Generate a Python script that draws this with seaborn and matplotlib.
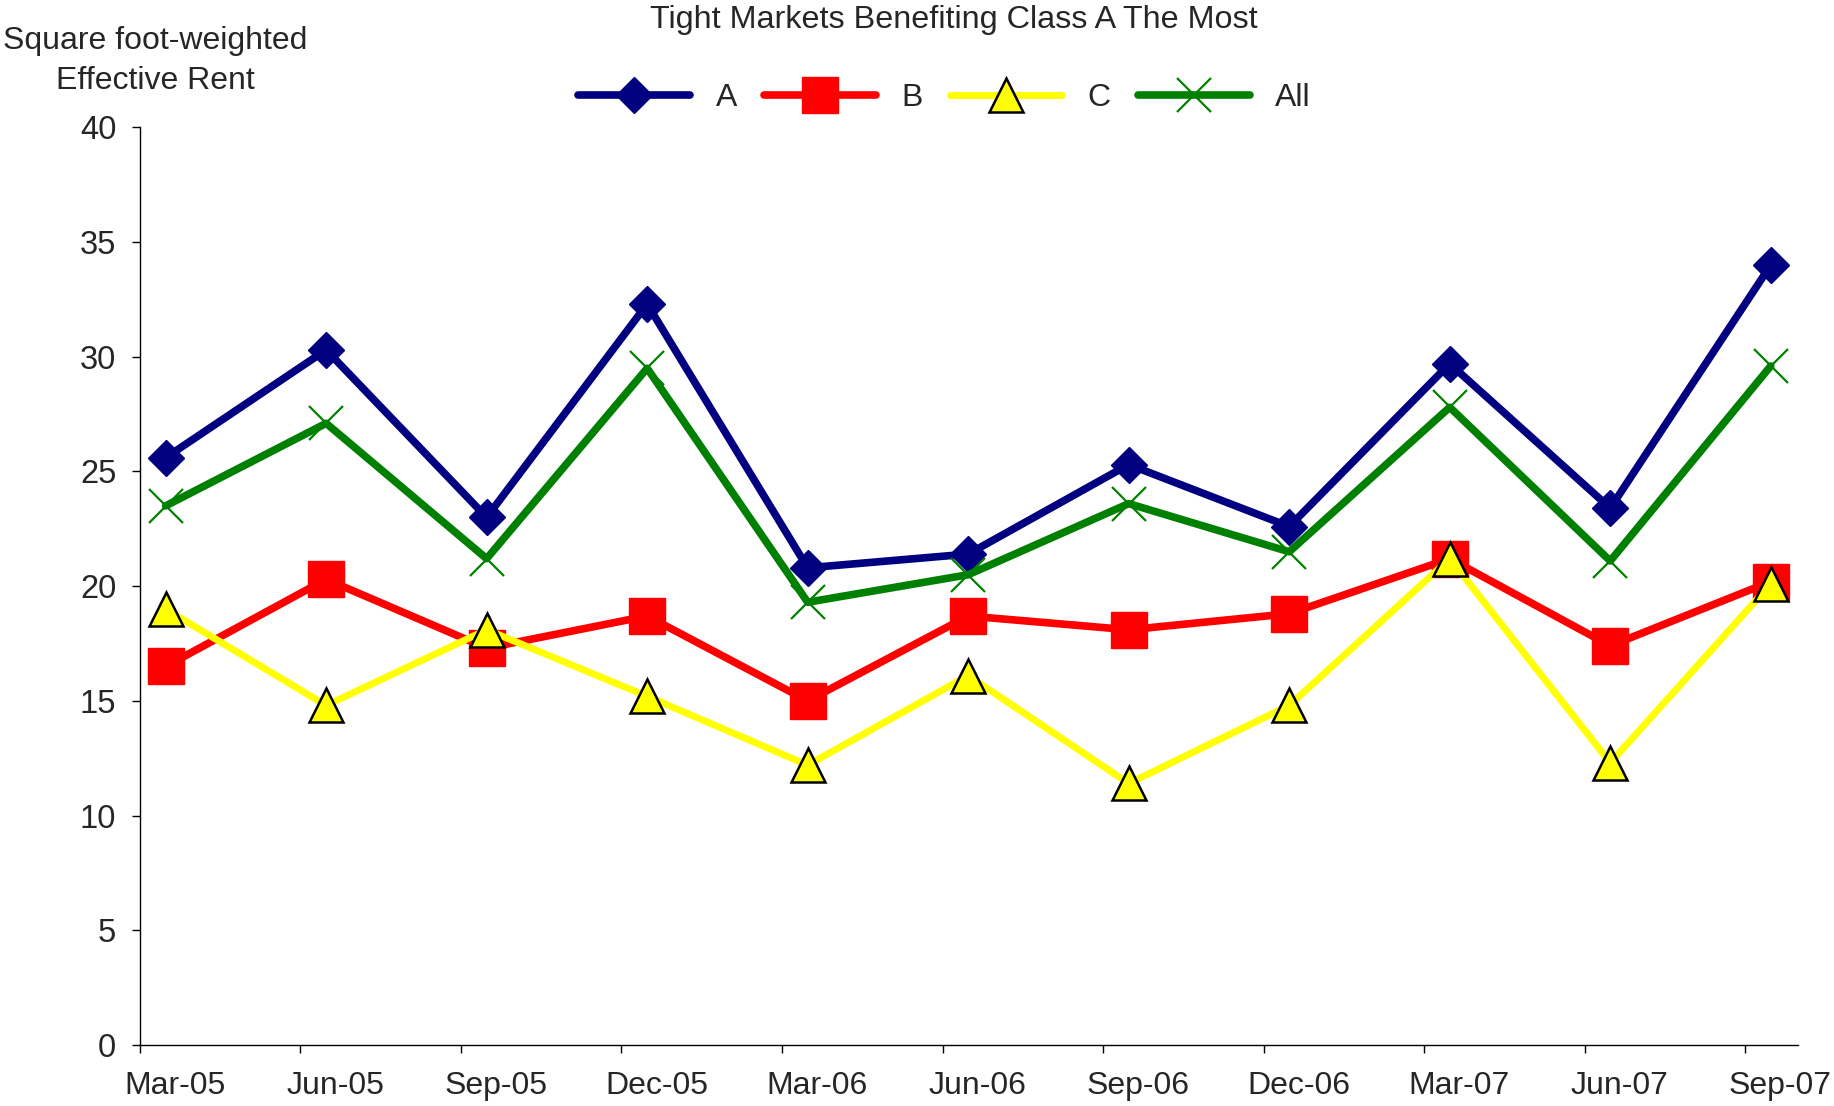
import numpy as np
import pandas as pd
import matplotlib
matplotlib.use("Agg")
import matplotlib.pyplot as plt
import seaborn as sns

quarters = ['Mar-05', 'Jun-05', 'Sep-05', 'Dec-05', 'Mar-06', 'Jun-06',
            'Sep-06', 'Dec-06', 'Mar-07', 'Jun-07', 'Sep-07']
rent_a = [25.6, 30.3, 23.0, 32.3, 20.8, 21.4, 25.3, 22.6, 29.7, 23.4, 34.0]
rent_b = [16.5, 20.3, 17.3, 18.7, 15.0, 18.7, 18.1, 18.8, 21.2, 17.4, 20.2]
rent_c = [19.0, 14.8, 18.1, 15.2, 12.2, 16.1, 11.4, 14.8, 21.2, 12.3, 20.1]
rent_all = [23.5, 27.1, 21.2, 29.5, 19.3, 20.5, 23.6, 21.5, 27.8, 21.1, 29.6]

sns.set_style("white")
plt.rcParams['font.family'] = ['Liberation Sans', 'DejaVu Sans']

# data sits a bit to the right of each tick (mid-month on a date axis)
pos = np.arange(len(quarters)) + 0.16
data = pd.DataFrame({'pos': pos, 'A': rent_a, 'B': rent_b, 'C': rent_c, 'All': rent_all})

fig = plt.figure(figsize=(18.34, 11.06), dpi=100)
ax = fig.add_axes([0.0763, 0.0552, 0.9041, 0.8296])

sns.lineplot(x='pos', y='A', data=data, ax=ax, color='#000080', linewidth=5.5,
             marker='D', markersize=18, markeredgecolor='#000080', markeredgewidth=1, label='A')
sns.lineplot(x='pos', y='B', data=data, ax=ax, color='#FF0000', linewidth=5.5,
             marker='s', markersize=26, markeredgecolor='#FF0000', markeredgewidth=1, label='B')
sns.lineplot(x='pos', y='C', data=data, ax=ax, color='#FFFF00', linewidth=5,
             marker='^', markersize=25, markerfacecolor='#FFFF00', markeredgecolor='black',
             markeredgewidth=1.8, label='C')
sns.lineplot(x='pos', y='All', data=data, ax=ax, color='#008000', linewidth=5.5,
             marker='x', markersize=24, markeredgecolor='#008000', markeredgewidth=1.6, label='All')

ax.set_xlim(0, 10.33)
ax.set_ylim(0, 40)
ax.set_yticks(range(0, 41, 5))
ax.set_xticks(range(len(quarters)))
ax.set_xticklabels([])
ax.set_xticks(np.arange(len(quarters)) + 0.22, minor=True)
ax.set_xticklabels(quarters, minor=True)
ax.tick_params(axis='x', which='major', direction='out', length=6, width=1, color='black', bottom=True)
ax.tick_params(axis='x', which='minor', length=0, pad=19, labelsize=23)
ax.tick_params(axis='y', direction='out', length=6, width=1, color='black', left=True, pad=11, labelsize=23.5)
ax.set_xlabel('')
ax.set_ylabel('')

for side in ['top', 'right']:
    ax.spines[side].set_visible(False)
for side in ['left', 'bottom']:
    ax.spines[side].set_color('black')
    ax.spines[side].set_linewidth(1)

handles, labels = ax.get_legend_handles_labels()
if ax.get_legend() is not None:
    ax.get_legend().remove()
fig.legend(handles, labels, loc='center', bbox_to_anchor=(0.515, 0.911), ncol=4, frameon=False,
           fontsize=23, handlelength=3.5, handletextpad=0.8, columnspacing=0.85)

fig.text(0.52, 0.982, 'Tight Markets Benefiting Class A The Most', ha='center', va='center', fontsize=23.3)
fig.text(0.0845, 0.945, 'Square foot-weighted\nEffective Rent', ha='center', va='center',
         fontsize=23, linespacing=1.45)

plt.savefig('out.png', dpi=100)
